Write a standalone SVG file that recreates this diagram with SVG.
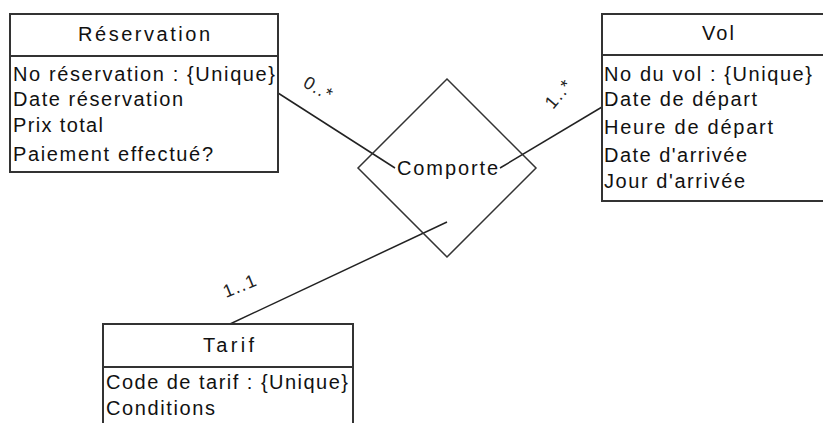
<svg xmlns="http://www.w3.org/2000/svg" width="823" height="423" viewBox="0 0 823 423">
<style>
.box{fill:#fff;stroke:#333;stroke-width:2}
.div{stroke:#333;stroke-width:2}
.t{font-family:"Liberation Sans",Arial,sans-serif;font-size:20px;fill:#111}
.lbl{font-family:"Liberation Sans",Arial,sans-serif;font-size:18px;fill:#222}
.con{stroke:#222;stroke-width:1.5;fill:none}
.dia{fill:none;stroke:#333;stroke-width:1.5}
</style>
<rect width="823" height="423" fill="#fff"/>
<g id="connectors">
<line class="con" x1="278" y1="93" x2="395" y2="168"/>
<line class="con" x1="500" y1="168" x2="602" y2="107"/>
<line class="con" x1="447" y1="222" x2="230" y2="324"/>
<text class="lbl" transform="translate(302,86) rotate(30)" textLength="30">0..*</text>
<text class="lbl" transform="translate(553,110) rotate(-50)" textLength="31">1..*</text>
<text class="lbl" transform="translate(226,298) rotate(-22)" textLength="34">1..1</text>
</g>
<g id="comporte">
<polygon class="dia" points="447,79 536,168 447,257 358,168"/>
<text class="t" x="397" y="175" textLength="101">Comporte</text>
</g>
<g id="reservation">
<rect class="box" x="10" y="14" width="268" height="158"/>
<line class="div" x1="10" y1="56" x2="278" y2="56"/>
<text class="t" x="78" y="41" textLength="132">Réservation</text>
<text class="t" x="13" y="81" textLength="262">No réservation : {Unique}</text>
<text class="t" x="13" y="106" textLength="170">Date réservation</text>
<text class="t" x="13" y="132" textLength="90">Prix total</text>
<text class="t" x="13" y="161" textLength="200">Paiement effectué?</text>
</g>
<g id="vol">
<rect class="box" x="602" y="14" width="240" height="187"/>
<line class="div" x1="602" y1="55" x2="842" y2="55"/>
<text class="t" x="702" y="40" textLength="32">Vol</text>
<text class="t" x="604" y="81" textLength="208">No du vol : {Unique}</text>
<text class="t" x="604" y="106" textLength="153">Date de départ</text>
<text class="t" x="604" y="134" textLength="169">Heure de départ</text>
<text class="t" x="604" y="162" textLength="143">Date d'arrivée</text>
<text class="t" x="604" y="188" textLength="141">Jour d'arrivée</text>
</g>
<g id="tarif">
<rect class="box" x="103" y="324" width="250" height="120"/>
<line class="div" x1="103" y1="367" x2="353" y2="367"/>
<text class="t" x="203" y="352" textLength="51">Tarif</text>
<text class="t" x="106" y="389" textLength="242">Code de tarif : {Unique}</text>
<text class="t" x="106" y="415" textLength="109">Conditions</text>
</g>
</svg>
